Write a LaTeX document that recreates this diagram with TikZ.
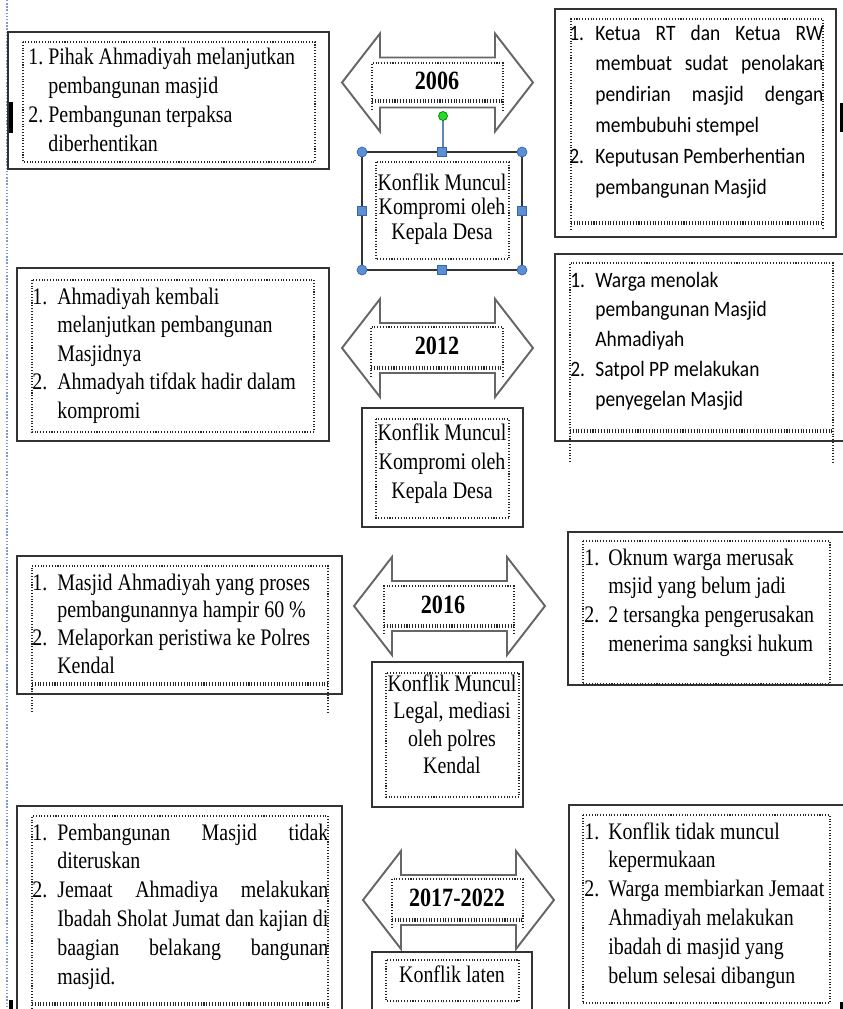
\documentclass[tikz,border=0pt]{standalone}
\usepackage{fontspec}
\usepackage{tikz}
\usepackage{xcolor}
\setmainfont{Liberation Serif}
\newfontfamily\serifw[FakeStretch=0.84]{Liberation Serif}
\newfontfamily\sansw[FakeStretch=0.885]{Carlito}
\newlength\pxu
\setlength\pxu{0.02cm}
\definecolor{marginblue}{HTML}{7A9CCF}
\definecolor{handleblue}{HTML}{5B8FD6}
\definecolor{handleedge}{HTML}{3A66A7}
\definecolor{rotgreen}{HTML}{22DD22}

\tikzset{
  outerbox/.style={draw=black!80, line width=1.1pt},
  innerbox/.style={draw=black!85, densely dotted, line width=0.6pt},
  yeararrow/.style={draw=black!60, fill=white, line width=1.1pt},
  serifnote/.style={anchor=base west, inner sep=0pt, font=\serifw\fontsize{13.5}{#1}\selectfont},
  sansnote/.style={anchor=base west, inner sep=0pt, font=\sansw\fontsize{12.5}{#1}\selectfont},
  midnote/.style={anchor=base, inner sep=0pt, font=\serifw\fontsize{13.5}{#1}\selectfont},
  yearlabel/.style={inner sep=0pt, font=\serifw\bfseries\fontsize{15}{18}\selectfont},
  cornerhandle/.style={fill=handleblue, draw=handleedge, line width=0.4pt},
}

% double arrow: left tip x, centre y
\newcommand{\drawyeararrow}[2]{%
  \draw[yeararrow] (#1,#2) -- ++(38,-49) -- ++(0,24) -- ++(115,0) -- ++(0,-24)
    -- ++(38,49) -- ++(-38,49) -- ++(0,-24) -- ++(-115,0) -- ++(0,24) -- cycle;}
% text frame that overflows: x1, top, x2, double line, end of sides
\newcommand{\spillbox}[5]{%
  \draw[innerbox] (#1,#5) -- (#1,#2) -- (#3,#2) -- (#3,#5);
  \draw[innerbox] (#1,#4) -- (#3,#4);
  \draw[innerbox] (#1,#4+2) -- (#3,#4+2);}

\begin{document}
\begin{tikzpicture}[x=0.02cm, y=-0.02cm]
    \useasboundingbox (0,0) rectangle (843,1009);
    \draw[marginblue, densely dotted, line width=0.8pt] (7,0) -- (7,1009);
    \fill[black] (9,102) rectangle (13,133);
    \fill[black] (840,103) rectangle (843,132);
    \fill[black] (9,1000) rectangle (13,1009);
    \fill[black] (840,1002) rectangle (843,1009);

    % 2006
    \draw[outerbox] (8,32) rectangle (329,169);
    \draw[innerbox] (23,42) rectangle (315,162);
    \node[serifnote=16.6] (l1) at (28,64) {\begin{tabular}[t]{@{}p{20\pxu}@{}l@{}}
      1. & Pihak Ahmadiyah melanjutkan\\ & pembangunan masjid\\
      2. & Pembangunan terpaksa\\ & diberhentikan\end{tabular}};
    \drawyeararrow{342}{82.5}
    \spillbox{372}{63}{503}{100}{110}
    \node[yearlabel] (y1) at (437,81) {2006};
    \draw[outerbox] (362,152) rectangle (522,270);
    \draw[innerbox] (376,162) rectangle (509,259);
    \node[midnote=14.2] (m1) at (442,190) {\begin{tabular}[t]{@{}c@{}}
      Konflik Muncul\\ Kompromi oleh\\ Kepala Desa\end{tabular}};
    \coordinate (rot) at (443,116);
    \coordinate (m1top) at (443,152);
    \draw[handleedge!80, line width=0.7pt] (rot) -- (m1top);
    \foreach \hx/\hy in {362/152,522/152,362/270,522/270}
      \draw[cornerhandle] (\hx,\hy) circle[radius=1mm];
    \foreach \hx/\hy in {442/152,442/270,362/211,522/211}
      \draw[cornerhandle] (\hx-4.5,\hy-4.5) rectangle (\hx+4.5,\hy+4.5);
    \draw[fill=rotgreen, draw=green!50!black, line width=0.4pt] (rot) circle[radius=0.9mm];
    \draw[outerbox] (555,9) rectangle (836,237);
    \spillbox{571}{19}{823}{222}{230}
    \node[sansnote=17.6] (r1) at (569,40) {\begin{tabular}[t]{@{}p{26\pxu}@{}l@{}}
      1. & \makebox[228\pxu][s]{Ketua RT dan Ketua RW}\\
         & \makebox[228\pxu][s]{membuat sudat penolakan}\\
         & \makebox[228\pxu][s]{pendirian masjid dengan}\\
         & membubuhi stempel\\
      2. & Keputusan Pemberhentian\\ & pembangunan Masjid\end{tabular}};

    % 2012
    \draw[outerbox] (17,268) rectangle (329,441);
    \draw[innerbox] (32,280) rectangle (314,432);
    \node[serifnote=16.3] (l2) at (32,304) {\begin{tabular}[t]{@{}p{25\pxu}@{}l@{}}
      1. & Ahmadiyah kembali\\ & melanjutkan pembangunan\\ & Masjidnya\\
      2. & Ahmadyah tifdak hadir dalam\\ & kompromi\end{tabular}};
    \drawyeararrow{342}{348}
    \spillbox{371}{327}{503}{367}{377}
    \node[yearlabel] (y2) at (437,346) {2012};
    \draw[outerbox] (362,408) rectangle (523,527);
    \draw[innerbox] (376,419) rectangle (509,518);
    \node[midnote=16.7] (m2) at (442,440) {\begin{tabular}[t]{@{}c@{}}
      Konflik Muncul\\ Kompromi oleh\\ Kepala Desa\end{tabular}};
    \draw[outerbox] (843,254) -- (555,254) -- (555,441) -- (843,441);
    \spillbox{570}{263}{833}{430}{462}
    \node[sansnote=17] (r2) at (570,287) {\begin{tabular}[t]{@{}p{25\pxu}@{}l@{}}
      1. & Warga menolak\\ & pembangunan Masjid\\ & Ahmadiyah\\
      2. & Satpol PP melakukan\\ & penyegelan Masjid\end{tabular}};

    % 2016
    \draw[outerbox] (17,556) rectangle (342,694);
    \spillbox{32}{566}{328}{683}{712}
    \node[serifnote=15.9] (l3) at (32,590) {\begin{tabular}[t]{@{}p{25\pxu}@{}l@{}}
      1. & Masjid Ahmadiyah yang proses\\ & pembangunannya hampir 60 \%\\
      2. & Melaporkan peristiwa ke Polres\\ & Kendal\end{tabular}};
    \drawyeararrow{354}{606}
    \spillbox{384}{586}{514}{625}{634}
    \node[yearlabel] (y3) at (443,605) {2016};
    \draw[outerbox] (372,662) rectangle (523,807);
    \draw[innerbox] (386,673) rectangle (519,797);
    \node[midnote=15.7] (m3) at (452,691) {\begin{tabular}[t]{@{}c@{}}
      Konflik Muncul\\ Legal, mediasi\\ oleh polres\\ Kendal\end{tabular}};
    \draw[outerbox] (843,532) -- (568,532) -- (568,685) -- (843,685);
    \draw[innerbox] (583,541) rectangle (830,684);
    \node[serifnote=16.4] (r3) at (584,565) {\begin{tabular}[t]{@{}p{24\pxu}@{}l@{}}
      1. & Oknum warga merusak\\ & msjid yang belum jadi\\
      2. & 2 tersangka pengerusakan\\ & menerima sangksi hukum\end{tabular}};

    % 2017-2022
    \draw[outerbox] (17,1009) -- (17,806) -- (342,806) -- (342,1009);
    \spillbox{32}{816}{328}{1003}{1009}
    \node[serifnote=16.4] (l4) at (32,840) {\begin{tabular}[t]{@{}p{25\pxu}@{}l@{}}
      1. & \makebox[271\pxu][s]{Pembangunan Masjid tidak}\\ & diteruskan\\
      2. & \makebox[271\pxu][s]{Jemaat Ahmadiya melakukan}\\
         & \makebox[271\pxu][s]{Ibadah Sholat Jumat dan kajian di}\\
         & \makebox[271\pxu][s]{baagian belakang bangunan}\\
         & masjid.\end{tabular}};
    \drawyeararrow{363}{900}
    \spillbox{392}{879}{523}{919}{928}
    \node[yearlabel] (y4) at (457,898) {2017-2022};
    \draw[outerbox] (372,1009) -- (372,952) -- (532,952) -- (532,1009);
    \draw[innerbox] (386,960) rectangle (519,1001);
    \node[midnote=16] (m4) at (452,982) {Konflik laten};
    \draw[outerbox] (843,805) -- (569,805) -- (569,1009);
    \draw[innerbox] (583,815) rectangle (830,1003);
    \node[serifnote=16.4] (r4) at (584,839) {\begin{tabular}[t]{@{}p{24\pxu}@{}l@{}}
      1. & Konflik tidak muncul\\ & kepermukaan\\
      2. & Warga membiarkan Jemaat\\ & Ahmadiyah melakukan\\
         & ibadah di masjid yang\\ & belum selesai dibangun\end{tabular}};
\end{tikzpicture}
\end{document}
